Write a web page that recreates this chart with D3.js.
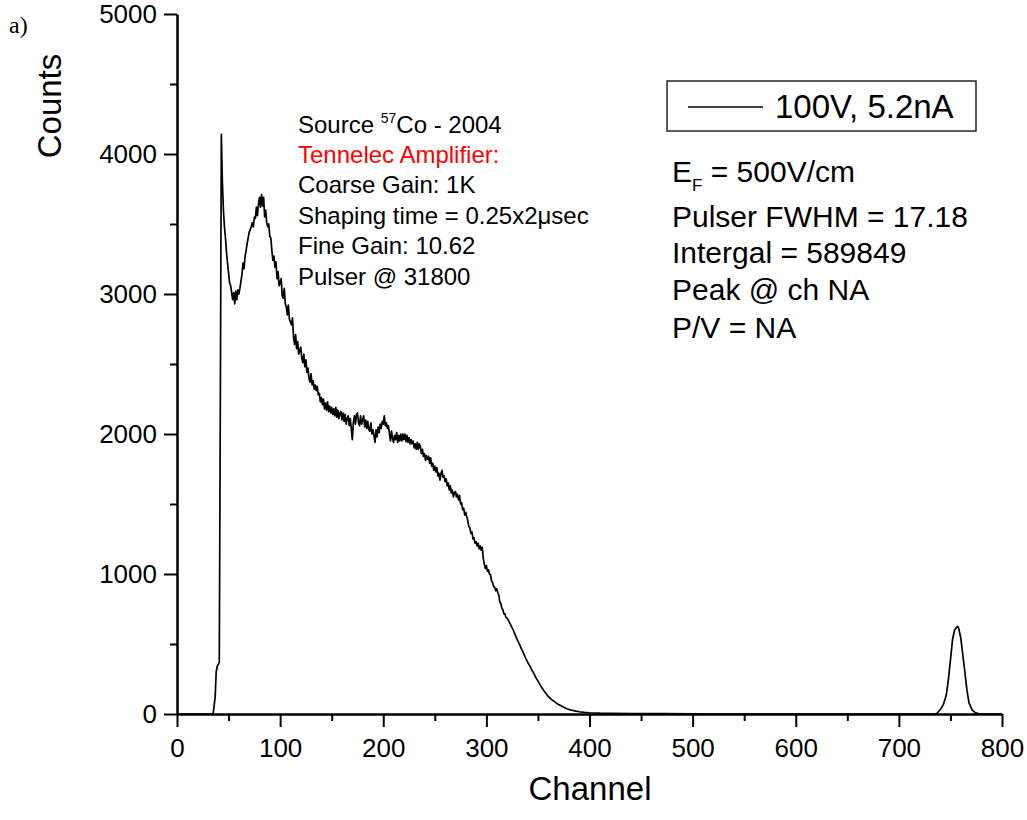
<!DOCTYPE html>
<html><head><meta charset="utf-8">
<script src="https://cdn.jsdelivr.net/npm/d3@7"></script>
<style>
body{margin:0;background:#fff;}
</style></head>
<body><svg id="c" width="1027" height="820"></svg>
<script>
// ---- data: [channel, counts] ----
const spectrum = [
[0,0],[35,0],[37,120],[38,300],[39,340],[40,355],[41,370],
[42,2200],[43,4140],[44,3800],[45,3600],[46,3480],[47,3400],[48,3300],[49,3220],[50,3150],[51,3080],
[52,3060],[53,3010],[54,2960],[55,3010],[56,2930],[57,3020],[58,2960],[59,3030],[60,3000],[61,3040],
[62,3090],[63,3140],[64,3220],[65,3180],[66,3270],[67,3310],[68,3360],[69,3400],[70,3440],[71,3460],
[72,3480],[73,3510],[74,3480],[75,3550],[76,3540],[77,3620],[78,3560],[79,3640],[80,3690],[81,3620],
[82,3710],[83,3630],[84,3690],[85,3550],[86,3600],[87,3510],[88,3480],[89,3500],[90,3410],[91,3400],
[92,3310],[93,3240],[94,3270],
[95,3190],[96,3230],[97,3110],[98,3160],[99,3060],[100,3080],[101,3110],[102,2990],[103,2970],[104,3040],
[105,2930],[106,2910],[107,2850],[108,2920],[109,2820],[110,2800],[111,2780],[112,2830],[113,2690],[114,2640],
[115,2710],[116,2610],[117,2660],[118,2570],[119,2600],[120,2620],[121,2540],[122,2510],[123,2570],[124,2480],
[125,2530],[126,2440],[127,2470],[128,2400],[129,2370],[130,2430],[131,2350],[132,2380],[133,2320],[134,2350],
[135,2310],[136,2340],[137,2280],[138,2290],[139,2230],[140,2260],[141,2210],[142,2250],[143,2180],[144,2220],
[145,2170],[146,2230],[147,2160],[148,2200],[149,2150],[150,2190],[151,2140],[152,2180],[153,2130],[154,2190],
[155,2120],[156,2170],[157,2110],[158,2150],[159,2160],[160,2100],[161,2150],[162,2090],[163,2140],[164,2070],
[165,2110],[166,2130],[167,2060],[168,2110],[169,2040],[170,1960],[171,2080],[172,2130],[173,2070],[174,2140],
[175,2150],[176,2080],[177,2060],[178,2130],[179,2070],[180,2100],[181,2130],[182,2050],[183,2100],[184,2040],
[185,2090],[186,2030],[187,2020],[188,2080],[189,2000],[190,2030],[191,1990],[192,1940],[193,2030],[194,1980],
[195,2050],[196,2010],[197,2070],[198,2040],[199,2090],[200,2070],[201,2130],[202,2060],[203,2080],[204,2040],
[205,2060],[206,2000],[207,1950],[208,2020],[209,1970],[210,1940],[211,1990],[212,1960],[213,2010],[214,1940],
[215,1990],[216,1950],[217,2000],[218,1950],[219,2000],[220,1960],[221,2000],[222,1945],[223,1990],[224,1940],
[225,1975],[226,1930],[227,1960],[228,1930],[229,1950],[230,1900],[231,1930],[232,1890],[233,1940],[234,1890],
[235,1930],[236,1910],[237,1860],[238,1890],[239,1840],[240,1860],[241,1810],[242,1845],[243,1820],[244,1840],
[245,1790],[246,1830],[247,1770],[248,1790],[249,1740],[250,1770],[251,1730],[252,1760],[253,1700],[254,1720],
[255,1670],[256,1720],[257,1740],[258,1690],[259,1700],[260,1660],[261,1680],[262,1630],[263,1650],[264,1600],
[265,1630],[266,1580],[267,1600],[268,1550],[269,1580],[270,1590],[271,1550],[272,1570],[273,1530],[274,1560],
[275,1500],[276,1510],[277,1460],[278,1470],[279,1420],[280,1440],[281,1410],[282,1380],[283,1340],[284,1330],
[285,1290],[286,1300],[287,1250],[288,1260],[289,1220],[290,1230],[291,1200],[292,1220],[293,1180],[294,1200],
[295,1170],[296,1190],[297,1110],[298,1070],[299,1040],[300,1060],[301,1020],[302,1030],[303,1000],[304,995],
[305,950],[306,940],[307,910],[308,905],[309,880],[310,895],[311,870],[312,850],[313,800],[314,790],
[315,755],[316,745],[317,715],[318,715],[319,690],[320,685],
[322,660],[324,630],[326,600],[328,565],[330,530],[332,500],[334,465],[336,435],[338,400],[340,370],
[342,345],[344,315],[346,290],[348,260],[350,235],[352,210],[354,185],[356,165],[358,145],[360,125],
[363,105],[366,88],[369,72],[372,60],[375,48],[378,38],[381,30],[384,25],[387,20],[390,16],
[395,12],[400,9],[410,6],[420,5],[440,3],[470,2],[500,1],[530,0],[735,0],
[737,5],[740,30],[743,65],[746,135],[748,245],[750,385],[752,530],[754,600],[756,620],[757,625],
[758,612],[760,545],[762,420],[764,300],[766,170],[768,80],[771,30],[774,10],[777,3],[780,0],[800,0]
];
const xMajor = [0,100,200,300,400,500,600,700,800];
const xMinor = [50,150,250,350,450,550,650,750];
const yMajor = [0,1000,2000,3000,4000,5000];
const yMinor = [500,1500,2500,3500,4500];
const seriesName = "100V, 5.2nA";
const notesLeft = ["Coarse Gain: 1K","Shaping time = 0.25x2\u03bcsec","Fine Gain: 10.62","Pulser @ 31800"];
const notesRight = ["Pulser FWHM = 17.18","Intergal = 589849","Peak @ ch NA","P/V = NA"];

const SANS = '"Liberation Sans",Arial,sans-serif';
const svg = d3.select("#c");
svg.append("rect").attr("width",1027).attr("height",820).attr("fill","#fff");

const x = d3.scaleLinear().domain([0,800]).range([177,1002]);
const y = d3.scaleLinear().domain([0,5000]).range([714,14]);

// curve
svg.append("path").datum(spectrum)
  .attr("fill","none").attr("stroke","#000").attr("stroke-width",1.7)
  .attr("stroke-linejoin","round")
  .attr("d", d3.line().x(d=>x(d[0])).y(d=>y(d[1])));

function styleAxis(g){
  g.select(".domain").attr("stroke","#000").attr("stroke-width",2.5);
  g.selectAll(".tick line").attr("stroke","#000").attr("stroke-width",2);
}
// x axis
const gxm = svg.append("g").attr("transform","translate(0,714)")
  .call(d3.axisBottom(x).tickValues(xMinor).tickSize(7).tickSizeOuter(0).tickFormat(""));
styleAxis(gxm); gxm.select(".domain").remove();
const gx = svg.append("g").attr("transform","translate(0,714)")
  .call(d3.axisBottom(x).tickValues(xMajor).tickSize(13).tickSizeOuter(0).tickPadding(12).tickFormat(d3.format("d")));
styleAxis(gx);
gx.selectAll("text").attr("font-size",26).attr("fill","#000").style("font-family",SANS);

// y axis
const gym = svg.append("g").attr("transform","translate(177,0)")
  .call(d3.axisLeft(y).tickValues(yMinor).tickSize(7).tickSizeOuter(0).tickFormat(""));
styleAxis(gym); gym.select(".domain").remove();
const gy = svg.append("g").attr("transform","translate(177,0)")
  .call(d3.axisLeft(y).tickValues(yMajor).tickSize(13).tickSizeOuter(0).tickPadding(7).tickFormat(d3.format("d")));
styleAxis(gy);
gy.selectAll("text").attr("font-size",26).attr("fill","#000").style("font-family",SANS);

// axis titles
svg.append("text").attr("x",590).attr("y",800).attr("text-anchor","middle")
  .attr("font-size",33).style("font-family",SANS).text("Channel");
svg.append("text").attr("transform","translate(61,106) rotate(-90)").attr("text-anchor","middle")
  .attr("font-size",33).style("font-family",SANS).text("Counts");
svg.append("text").attr("x",9).attr("y",33).attr("font-size",24)
  .style("font-family",'"Liberation Serif","Times New Roman",serif').text("a)");

// legend
svg.append("rect").attr("x",667).attr("y",81).attr("width",309).attr("height",50)
  .attr("fill","none").attr("stroke","#000").attr("stroke-width",1.3);
svg.append("line").attr("x1",688).attr("x2",763).attr("y1",107).attr("y2",107)
  .attr("stroke","#000").attr("stroke-width",1.6);
svg.append("text").attr("x",775).attr("y",118).attr("font-size",33).style("font-family",SANS).text(seriesName);

// left annotation
const lx = 298;
const t0 = svg.append("text").attr("x",lx).attr("y",133).attr("font-size",24).style("font-family",SANS);
t0.append("tspan").text("Source ");
t0.append("tspan").attr("font-size",14).attr("dy",-10).text("57");
t0.append("tspan").attr("dy",10).text("Co - 2004");
svg.append("text").attr("x",lx).attr("y",163).attr("font-size",24).attr("fill","#ff0000").style("font-family",SANS).text("Tennelec Amplifier:");
notesLeft.forEach((s,i)=>{
  svg.append("text").attr("x",lx).attr("y",193+i*30.5).attr("font-size",24).style("font-family",SANS).text(s);
});

// right annotation
const rx = 672;
const t1 = svg.append("text").attr("x",rx).attr("y",182).attr("font-size",30).style("font-family",SANS);
t1.append("tspan").text("E");
t1.append("tspan").attr("font-size",17).attr("dy",9).text("F");
t1.append("tspan").attr("dy",-9).text(" = 500V/cm");
const rys = [227,263,300,338];
notesRight.forEach((s,i)=>{
  svg.append("text").attr("x",rx).attr("y",rys[i]).attr("font-size",30).style("font-family",SANS).text(s);
});
</script>
</body></html>
